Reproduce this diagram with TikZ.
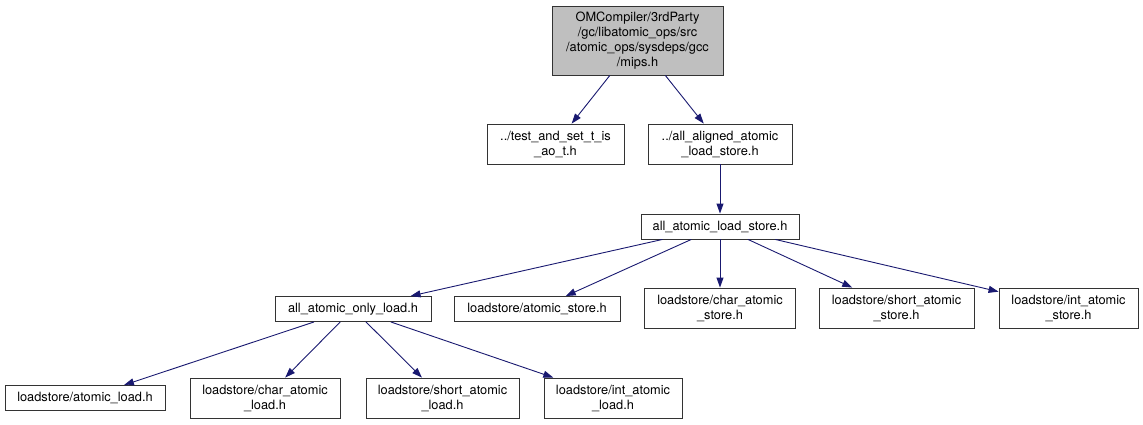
\documentclass[tikz,border=0pt]{standalone}
\usepackage{fontspec}
\setmainfont{TeX Gyre Heros}
\usepackage{xcolor}
\usepackage{tikz}
\usetikzlibrary{arrows.meta}
\definecolor{edgeblue}{HTML}{191970}
\definecolor{rootgray}{HTML}{BFBFBF}

\begin{document}
\begin{tikzpicture}[
    x=1pt, y=-1pt,
    every node/.style={font=\fontsize{12.8}{15}\selectfont},
    file/.style={rectangle, draw=black!80, line width=0.9pt, fill=white,
                 inner sep=0pt, align=center},
    onel/.style={file, minimum height=25pt},
    twol/.style={file, minimum height=40pt},
    rootfile/.style={file, fill=rootgray, minimum height=69pt},
    dep/.style={-{Triangle[length=10pt, width=7pt]}, edgeblue, line width=0.9pt},
  ]
    \useasboundingbox (0,0) rectangle (1143,424);
    % top
    \node[rootfile, minimum width=171pt] (mips) at (637.5, 40.5)
      {OMCompiler/3rdParty\\/gc/libatomic\_ops/src\\/atomic\_ops/sysdeps/gcc\\/mips.h};
    \node[twol, minimum width=137pt] (tas) at (555.5, 144) {../test\_and\_set\_t\_is\\\_ao\_t.h};
    \node[twol, minimum width=144pt] (aligned) at (720, 144) {../all\_aligned\_atomic\\\_load\_store.h};
    \node[onel, minimum width=158pt] (als) at (720, 226.5) {all\_atomic\_load\_store.h};
    % middle row
    \node[onel, minimum width=156pt] (aol) at (353, 309) {all\_atomic\_only\_load.h};
    \node[onel, minimum width=166pt] (ast) at (537, 309) {loadstore/atomic\_store.h};
    \node[twol, minimum width=151pt] (cas) at (720, 308) {loadstore/char\_atomic\\\_store.h};
    \node[twol, minimum width=155pt] (sas) at (896.5, 308) {loadstore/short\_atomic\\\_store.h};
    \node[twol, minimum width=139pt] (ias) at (1068.5, 308) {loadstore/int\_atomic\\\_store.h};
    % bottom row
    \node[onel, minimum width=160pt] (al) at (85, 398) {loadstore/atomic\_load.h};
    \node[twol, minimum width=150pt] (cal) at (265, 398) {loadstore/char\_atomic\\\_load.h};
    \node[twol, minimum width=153pt] (sal) at (442.5, 398) {loadstore/short\_atomic\\\_load.h};
    \node[twol, minimum width=138pt] (ial) at (613, 398) {loadstore/int\_atomic\\\_load.h};
    % edges
    \foreach \dst in {tas, aligned}\draw[dep] (mips) -- (\dst);
    \draw[dep] (aligned) -- (als);
    \foreach \dst in {aol, ast, cas, sas, ias}\draw[dep] (als) -- (\dst);
    \foreach \dst in {al, cal, sal, ial}\draw[dep] (aol) -- (\dst);
  \end{tikzpicture}
\end{document}
